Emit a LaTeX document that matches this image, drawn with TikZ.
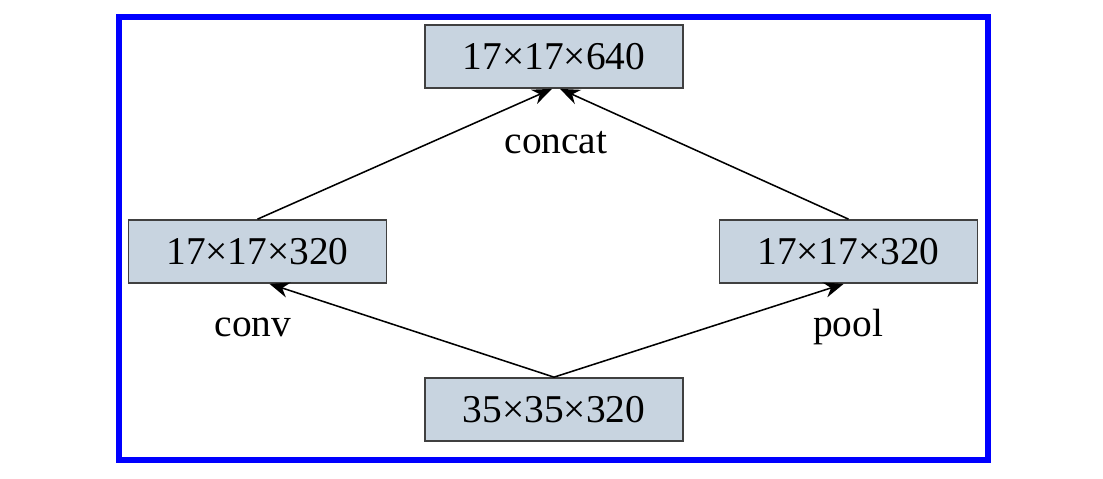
\documentclass[tikz,border=0pt]{standalone}
\usepackage{fontspec}
\setmainfont{Liberation Serif}
\usetikzlibrary{arrows.meta}
\definecolor{boxfill}{RGB}{200,212,224}

\begin{document}
\begin{tikzpicture} [x=0.025cm,y=-0.025cm,
  blk/.style= {shape=rectangle,draw=black!75,line width=1.2pt,fill=boxfill,minimum width=6.45cm,minimum height=1.575cm,inner sep=0,font=\fontsize{28}{32}\selectfont},
  lbl/.style= {font=\fontsize{28}{32}\selectfont,inner sep=0},
  arr/.style= {-{Stealth[length=14pt,width=11pt]},line width=1.1pt}]
\useasboundingbox (0,0) rectangle (1103,479);
\draw[blue,line width=0.16cm] (119,17) rectangle (988,460);

\node[blk] (t) at (554,56.5) {17×17×640};
\node[blk] (l) at (257.5,251.5) {17×17×320};
\node[blk] (r) at (848.5,251.5) {17×17×320};
\node[blk] (b) at (554,409.5) {35×35×320};

\draw[arr] (l.north) -- ([xshift=-0.05cm]t.south);
\draw[arr] (r.north) -- ([xshift=0.15cm]t.south);
\draw[arr] (b.north) -- ([xshift=0.3cm]l.south);
\draw[arr] (b.north) -- ([xshift=-0.12cm]r.south);

\node[lbl] (cc) at (556,143) {concat};
\node[lbl] (cv) at (253,327) {conv};
\node[lbl] (pl) at (848,327) {pool};
\end{tikzpicture}
\end{document}
